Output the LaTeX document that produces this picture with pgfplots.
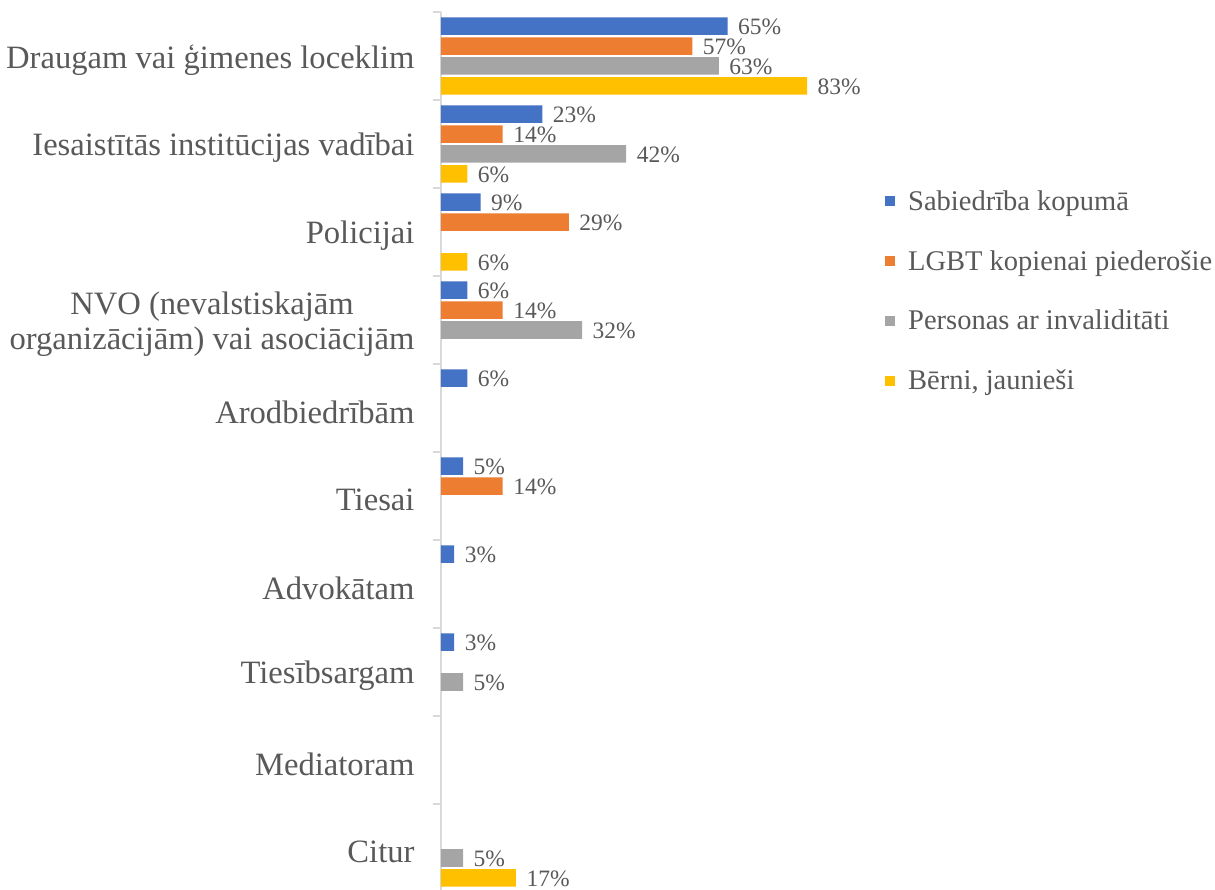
\documentclass[border=0pt]{standalone}
\usepackage{pgfplots}
\pgfplotsset{compat=1.18}
\usepackage{fontspec}
\setmainfont{Liberation Serif}
\definecolor{cblue}{HTML}{4472C4}
\definecolor{corange}{HTML}{ED7D31}
\definecolor{cgray}{HTML}{A5A5A5}
\definecolor{cyellow}{HTML}{FFC000}
\definecolor{ctext}{HTML}{595959}
\definecolor{caxis}{HTML}{D9D9D9}
\begin{document}
\begin{tikzpicture}
\useasboundingbox (0pt,0pt) rectangle (1215pt,-890pt);
\begin{axis}[
  at={(441pt,-892pt)}, anchor=south west,
  scale only axis, width=441pt, height=880pt,
  xmin=0, xmax=100, ymin=-0.5, ymax=9.5, y dir=reverse,
  hide x axis,
  axis y line*=left,
  axis line style={-, draw=caxis, line width=1.3pt},
  ytick={0,...,9},
  yticklabels={Draugam vai ģimenes loceklim, Iesaistītās institūcijas vadībai, Policijai, {NVO (nevalstiskajām\\organizācijām) vai asociācijām}, Arodbiedrībām, Tiesai, Advokātam, Tiesībsargam, Mediatoram, Citur},
  major tick length=0pt,
  minor ytick={-0.5,0.5,...,9.5},
  minor tick length=8pt,
  tick align=outside,
  minor y tick style={draw=caxis, line width=1.3pt},
  yticklabel style={font=\fontsize{32.6}{35}\selectfont, text=ctext, align=center, xshift=-23pt, yshift=-4pt},
  xbar, bar width=0.2,
  legend image code/.code={\fill[#1] (0pt,-5pt) rectangle (10pt,5pt); \path (21pt,0pt);},
  point meta=x,
  /pgf/number format/assume math mode=true,
  nodes near coords={\pgfmathprintnumber{\pgfplotspointmeta}\%},
  nodes near coords style={font=\fontsize{23.5}{25}\selectfont, text=ctext, anchor=west, xshift=7pt, yshift=-1pt},
  legend style={at={(1,0.683)}, anchor=west, draw=none, fill=none, font=\fontsize{28.5}{30}\selectfont, text=ctext, row sep=34.5pt},
  legend cell align=left,
]
\addplot[draw=none, fill=cblue, bar shift=-0.34] coordinates {(65,0) (23,1) (9,2) (6,3) (6,4) (5,5) (3,6) (3,7)};
\addplot[draw=none, fill=corange, bar shift=-0.113] coordinates {(57,0) (14,1) (29,2) (14,3) (14,5)};
\addplot[draw=none, fill=cgray, bar shift=0.113] coordinates {(63,0) (42,1) (32,3) (5,7) (5,9)};
\addplot[draw=none, fill=cyellow, bar shift=0.34] coordinates {(83,0) (6,1) (6,2) (17,9)};
\legend{Sabiedrība kopumā, LGBT kopienai piederošie, Personas ar invaliditāti, {Bērni, jaunieši}}
\end{axis}
\end{tikzpicture}
\end{document}
